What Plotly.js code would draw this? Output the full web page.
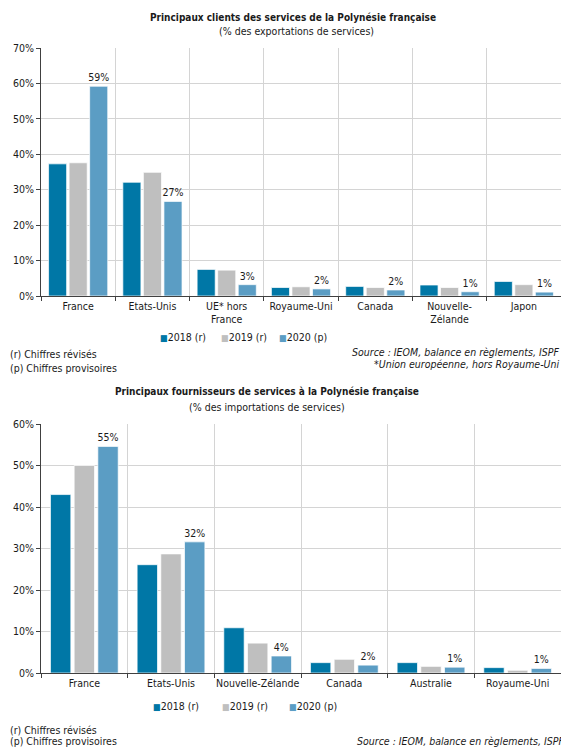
<!DOCTYPE html>
<html>
<head>
<meta charset="utf-8">
<script src="https://cdn.plot.ly/plotly-3.0.1.min.js"></script>
<style>
  html, body { margin: 0; padding: 0; background: #ffffff; }
  #clients { width: 561px; height: 380px; }
  #fournisseurs { width: 561px; height: 367px; }
</style>
</head>
<body>
<div id="clients"></div>
<div id="fournisseurs"></div>
<script>
// Principaux clients (part des exportations de services, %)
const clientsPays = ["France", "Etats-Unis", "UE* hors<br>France", "Royaume-Uni", "Canada", "Nouvelle-<br>Zélande", "Japon"];
const clients2018 = [37.3, 32.1, 7.5, 2.4, 2.7, 3.1, 4.1];
const clients2019 = [37.6, 34.9, 7.3, 2.6, 2.4, 2.4, 3.2];
const clients2020 = [59.2, 26.7, 3.2, 2.0, 1.7, 1.2, 1.1];

// Principaux fournisseurs (part des importations de services, %)
const fournPays = ["France", "Etats-Unis", "Nouvelle-Zélande", "Canada", "Australie", "Royaume-Uni"];
const fourn2018 = [43.0, 26.1, 10.9, 2.5, 2.5, 1.3];
const fourn2019 = [50.0, 28.7, 7.2, 3.3, 1.6, 0.65];
const fourn2020 = [54.6, 31.6, 4.1, 1.9, 1.4, 1.1];

const seriesNames = ["2018 (r)", "2019 (r)", "2020 (p)"];
const seriesColors = ["#0077a6", "#bfbfbf", "#5b9dc4"];

const FONT = "Tahoma, 'DejaVu Sans Condensed', 'DejaVu Sans', sans-serif";
const FS = 10.5;
const TXT = "#1a1a1a";
const W = 561;

function makeTraces(cats, series) {
  return series.map((vals, i) => {
    const t = {
      type: "bar",
      name: seriesNames[i],
      x: cats,
      y: vals,
      marker: { color: seriesColors[i], line: { color: "rgba(255,255,255,0.7)", width: 1 } },
      showlegend: false,
      hoverinfo: "skip"
    };
    if (i === 2) {
      // value label above the latest year only
      t.texttemplate = "%{y:.0f}%";
      t.textposition = "outside";
      t.constraintext = "none";
      t.cliponaxis = false;
      t.textfont = { family: FONT, size: FS, color: TXT };
    }
    return t;
  });
}

function makeLayout(opts) {
  const plotW = W - opts.l;
  const plotH = opts.h - opts.t - opts.b;
  // pixel -> paper coordinates helpers
  const px = v => (v - opts.l) / plotW;
  const py = v => (opts.h - opts.b - v) / plotH;
  const ann = (text, x, y, xanchor, extra) => Object.assign({
    text: text, xref: "paper", yref: "paper", x: px(x), y: py(y),
    xanchor: xanchor, yanchor: "middle", showarrow: false,
    font: { family: FONT, size: FS, color: TXT }
  }, extra || {});

  const annotations = [
    ann("<b>" + opts.title + "</b>", opts.titleX, opts.titleY, "center", { font: { family: FONT, size: 10, color: TXT } }),
    ann(opts.subtitle, opts.subX, opts.subY, "center")
  ];
  // compact legend: small coloured square followed by the series name
  seriesNames.forEach((name, i) => {
    annotations.push(ann(
      '<span style="color:' + seriesColors[i] + ';font-size:9px">■</span>' + name,
      opts.legendX[i], opts.legendY, "left"
    ));
  });
  opts.notes.forEach(n => {
    annotations.push(ann(n.text, n.x, n.y, n.anchor,
      n.italic ? { font: { family: FONT, size: FS, color: TXT, style: "italic" } } : {}));
  });

  return {
    width: W, height: opts.h,
    margin: { l: opts.l, r: 0, t: opts.t, b: opts.b, pad: 0 },
    paper_bgcolor: "#ffffff", plot_bgcolor: "#ffffff",
    font: { family: FONT, size: FS, color: TXT },
    barmode: "group",
    bargap: opts.bargap,
    bargroupgap: opts.bargroupgap,
    showlegend: false,
    xaxis: {
      type: "category", range: [-0.5, opts.ncat - 0.5],
      tickson: "boundaries", ticks: "outside", ticklen: 4, tickcolor: "#404040",
      tickangle: 0,
      showgrid: true, gridcolor: "#d4d4d4", gridwidth: 1,
      showline: true, linecolor: "#404040", linewidth: 1,
      tickfont: { family: FONT, size: FS, color: TXT },
      fixedrange: true
    },
    yaxis: {
      range: [0, opts.ymax], dtick: 10, ticksuffix: "%",
      ticks: "outside", ticklen: 4, tickcolor: "#404040",
      showgrid: true, gridcolor: "#d4d4d4", gridwidth: 1,
      showline: true, linecolor: "#404040", linewidth: 1,
      zeroline: false,
      tickfont: { family: FONT, size: FS, color: TXT },
      fixedrange: true
    },
    annotations: annotations
  };
}

Plotly.newPlot("clients",
  makeTraces(clientsPays, [clients2018, clients2019, clients2020]),
  makeLayout({
    h: 380, l: 41, t: 48, b: 84, ncat: clientsPays.length, ymax: 70,
    bargap: 0.17, bargroupgap: 0.12,
    title: "Principaux clients des services de la Polynésie française", titleX: 293, titleY: 17,
    subtitle: "(% des exportations de services)", subX: 296, subY: 31,
    legendX: [158, 219, 277], legendY: 337,
    notes: [
      { text: "(r) Chiffres révisés", x: 8, y: 354, anchor: "left" },
      { text: "(p) Chiffres provisoires", x: 8, y: 368, anchor: "left" },
      { text: "Source : IEOM, balance en règlements, ISPF", x: 561, y: 352, anchor: "right", italic: true },
      { text: "*Union européenne, hors Royaume-Uni", x: 561, y: 364, anchor: "right", italic: true }
    ]
  }),
  { staticPlot: true, displayModeBar: false }
);

Plotly.newPlot("fournisseurs",
  makeTraces(fournPays, [fourn2018, fourn2019, fourn2020]),
  makeLayout({
    h: 367, l: 41, t: 44, b: 74, ncat: fournPays.length, ymax: 60,
    bargap: 0.18, bargroupgap: 0.14,
    title: "Principaux fournisseurs de services à la Polynésie française", titleX: 267, titleY: 12,
    subtitle: "(% des importations de services)", subX: 267, subY: 27,
    legendX: [151, 220, 287], legendY: 326,
    notes: [
      { text: "(r) Chiffres révisés", x: 8, y: 350, anchor: "left" },
      { text: "(p) Chiffres provisoires", x: 8, y: 361, anchor: "left" },
      { text: "Source : IEOM, balance en règlements, ISPF", x: 566, y: 361, anchor: "right", italic: true }
    ]
  }),
  { staticPlot: true, displayModeBar: false }
);
</script>
</body>
</html>
